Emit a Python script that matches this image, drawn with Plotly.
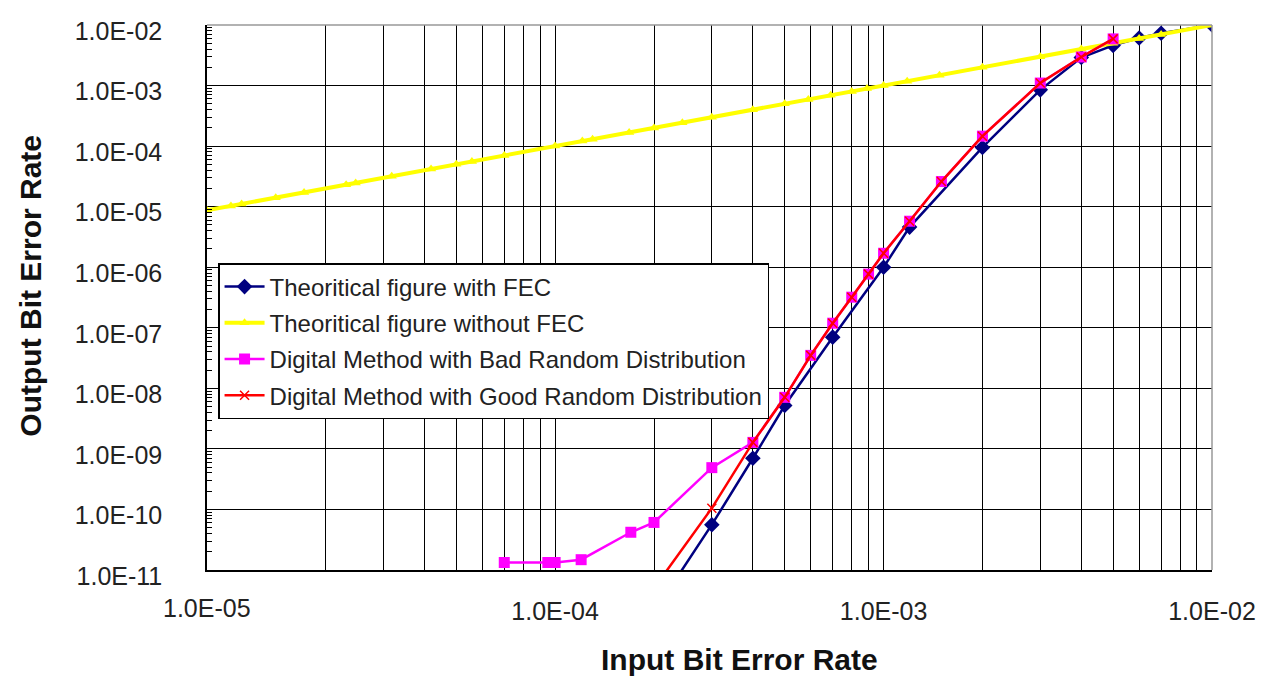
import plotly.graph_objects as go

# ---------------- data ----------------
fec_x = [2e-4, 3e-4, 4e-4, 5e-4, 7e-4, 1e-3, 1.2e-3, 2e-3, 3e-3, 4e-3, 5e-3, 6e-3, 7e-3, 1e-2]
fec_y = [2e-12, 5.6e-11, 7.0e-10, 5.2e-9, 7.0e-8, 1.0e-6, 4.6e-6, 9.5e-5, 8.5e-4, 2.9e-3, 4.6e-3, 6.1e-3, 7.3e-3, 1.0e-2]

nofec_x = [8.7e-6, 1.03e-5, 1.11e-5, 1.41e-5, 1.72e-5, 2.31e-5, 2.47e-5, 3.18e-5, 4.19e-5, 5.0e-5,
           5.58e-5, 7.0e-5, 1.0e-4, 1.21e-4, 1.30e-4, 1.68e-4, 2.0e-4, 2.44e-4, 3.0e-4, 4.0e-4,
           5.0e-4, 5.9e-4, 6.9e-4, 8.0e-4, 8.9e-4, 1.0e-3, 1.18e-3, 1.48e-3, 2.0e-3, 3.0e-3,
           4.0e-3, 5.0e-3, 6.0e-3, 7.0e-3, 1.0e-2]
nofec_y = [8.7e-6, 1.03e-5, 1.11e-5, 1.41e-5, 1.72e-5, 2.31e-5, 2.47e-5, 3.18e-5, 4.19e-5, 5.0e-5,
           5.58e-5, 7.0e-5, 1.0e-4, 1.21e-4, 1.30e-4, 1.68e-4, 2.0e-4, 2.44e-4, 3.0e-4, 4.0e-4,
           5.0e-4, 5.9e-4, 6.9e-4, 8.0e-4, 8.9e-4, 1.0e-3, 1.18e-3, 1.48e-3, 2.0e-3, 3.0e-3,
           4.0e-3, 5.0e-3, 6.0e-3, 7.0e-3, 1.0e-2]

bad_x = [7e-5, 9.5e-5, 1.0e-4, 1.2e-4, 1.7e-4, 2.0e-4, 3.0e-4, 4.0e-4, 5.0e-4, 6.0e-4,
         7.0e-4, 8.0e-4, 9.0e-4, 1.0e-3, 1.2e-3, 1.5e-3, 2.0e-3, 3.0e-3, 4.0e-3, 5.0e-3]
bad_y = [1.33e-11, 1.33e-11, 1.33e-11, 1.48e-11, 4.2e-11, 6.1e-11, 4.9e-10, 1.28e-9, 7.1e-9, 3.5e-8,
         1.19e-7, 3.2e-7, 7.7e-7, 1.7e-6, 5.75e-6, 2.6e-5, 1.46e-4, 1.1e-3, 2.96e-3, 5.9e-3]

good_x = [2.0e-4, 3.0e-4, 4.0e-4, 5.0e-4, 6.0e-4, 7.0e-4, 8.0e-4, 9.0e-4, 1.0e-3, 1.2e-3,
          1.5e-3, 2.0e-3, 3.0e-3, 4.0e-3, 5.0e-3]
good_y = [5e-12, 1.05e-10, 1.28e-9, 7.1e-9, 3.5e-8, 1.19e-7, 3.2e-7, 7.7e-7, 1.7e-6, 5.75e-6,
          2.6e-5, 1.46e-4, 1.1e-3, 2.96e-3, 5.9e-3]

x_tick_vals = [1e-4, 1e-3, 1e-2]
x_tick_text = ["1.0E-04", "1.0E-03", "1.0E-02"]
x_first_label = "1.0E-05"
y_tick_vals = [1e-2, 1e-3, 1e-4, 1e-5, 1e-6, 1e-7, 1e-8, 1e-9, 1e-10, 1e-11]
y_tick_text = ["1.0E-02", "1.0E-03", "1.0E-04", "1.0E-05", "1.0E-06", "1.0E-07",
               "1.0E-08", "1.0E-09", "1.0E-10", "1.0E-11"]

names = ["Theoritical figure with FEC", "Theoritical figure without FEC",
         "Digital Method with Bad Random Distribution", "Digital Method with Good Random Distribution"]

# ---------------- figure ----------------
x_minor = [m * 10.0 ** e for e in (-5, -4, -3) for m in range(2, 10)]
y_minor = [m * 10.0 ** e for e in range(-11, -2) for m in range(2, 10)]

fig = go.Figure()
fig.add_trace(go.Scatter(x=fec_x, y=fec_y, name=names[0], legendgroup="a", mode="lines+markers",
                         line=dict(color="#000080", width=2.5),
                         marker=dict(symbol="diamond", size=12, color="#000080")))
fig.add_trace(go.Scatter(x=nofec_x, y=nofec_y, name=names[1], legendgroup="b", mode="lines+markers",
                         line=dict(color="#FFFF00", width=4),
                         marker=dict(symbol="triangle-up", size=9, color="#FFFF00")))
fig.add_trace(go.Scatter(x=bad_x, y=bad_y, name=names[2], legendgroup="c", mode="lines+markers",
                         line=dict(color="#FF00FF", width=2.5),
                         marker=dict(symbol="square", size=11, color="#FF00FF")))
fig.add_trace(go.Scatter(x=good_x, y=good_y, name=names[3], legendgroup="d", mode="lines+markers",
                         line=dict(color="#FF0000", width=2.5),
                         marker=dict(symbol="x-thin", size=9, color="#FF0000",
                                     line=dict(color="#FF0000", width=1.5))))

fig.update_layout(
    width=1262, height=677,
    margin=dict(l=207, r=50, t=25, b=107, autoexpand=False),
    paper_bgcolor="white", plot_bgcolor="white",
    font=dict(family="Liberation Sans, Arial, sans-serif", color="#222222"),
    showlegend=True,
    legend=dict(x=0.011, y=0.5633, xanchor="left", yanchor="top",
                bgcolor="white", bordercolor="black", borderwidth=1.5,
                font=dict(size=24, color="#222222"), tracegroupgap=2,
                itemwidth=40),
    xaxis=dict(type="log", range=[-5.06, -2], tickmode="array", automargin=False,
               tickvals=x_tick_vals, ticktext=x_tick_text,
               tickfont=dict(size=25), ticks="", ticklabelstandoff=18,
               showgrid=True, gridcolor="black", gridwidth=1.3,
               showline=True, linecolor="black", linewidth=1.5, zeroline=False,
               minor=dict(tickmode="array", tickvals=x_minor, showgrid=True,
                          gridcolor="black", gridwidth=1.3, ticks="")),
    yaxis=dict(type="log", range=[-11, -2], tickmode="array", automargin=False,
               tickvals=y_tick_vals, ticktext=y_tick_text,
               tickfont=dict(size=25), ticks="", ticklabelstandoff=38, ticklabelshift=6,
               showgrid=True, gridcolor="black", gridwidth=1.3,
               showline=True, linecolor="black", linewidth=1.5, zeroline=False,
               minor=dict(tickmode="array", tickvals=y_minor, showgrid=False,
                          ticks="inside", ticklen=5, tickwidth=1, tickcolor="black")),
    shapes=[
        dict(type="line", xref="paper", yref="paper", x0=0, x1=1, y0=1, y1=1,
             line=dict(color="#999999", width=1.5), layer="above"),
        dict(type="line", xref="paper", yref="paper", x0=1, x1=1, y0=0, y1=1,
             line=dict(color="#999999", width=1.5), layer="above"),
    ],
    annotations=[
        dict(text=x_first_label, xref="paper", yref="paper", x=0, y=-0.070,
             xanchor="center", yanchor="middle", showarrow=False,
             font=dict(size=25, color="#222222")),
        dict(text="<b>Input Bit Error Rate</b>", xref="paper", yref="paper",
             x=0.530, y=-0.165, xanchor="center", yanchor="middle", showarrow=False,
             font=dict(size=30, color="#111111")),
        dict(text="<b>Output Bit Error Rate</b>", xref="paper", yref="paper",
             x=-0.176, y=0.522, xanchor="center", yanchor="middle", showarrow=False,
             textangle=-90, font=dict(size=30, color="#111111")),
    ],
)

fig.write_html("out.html", config={"displayModeBar": False},
               post_script="document.body.style.margin='0';document.body.style.overflow='hidden';")
